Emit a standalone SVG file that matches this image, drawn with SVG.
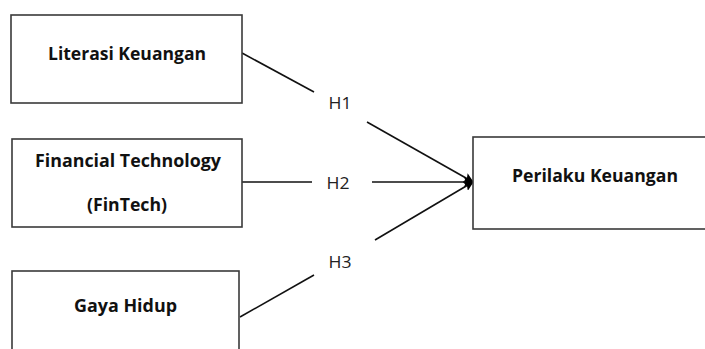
<svg xmlns="http://www.w3.org/2000/svg" width="705" height="349" viewBox="0 0 705 349">
<style>
.box{fill:#fff;stroke:#3a3a3a;stroke-width:1.6}
.lbl{font-family:"Open Sans","Liberation Sans",Arial,sans-serif;font-weight:bold;font-size:17px;fill:#111;text-anchor:middle}
.h{font-family:"Open Sans","Liberation Sans",Arial,sans-serif;font-size:16px;fill:#222;text-anchor:middle}
.ln{stroke:#111;stroke-width:1.6;fill:none}
</style>
<defs>
<marker id="arr" markerWidth="10" markerHeight="10" refX="9" refY="5" orient="auto" markerUnits="userSpaceOnUse">
<path d="M0,0 L10,5 L0,10 L2,5 Z" fill="#000"/>
</marker>
</defs>
<rect width="705" height="349" fill="#fff"/>
<g id="connectors">
<line class="ln" x1="242" y1="53" x2="314" y2="92"/>
<line class="ln" x1="367" y1="122" x2="473" y2="182" marker-end="url(#arr)"/>
<line class="ln" x1="242" y1="182" x2="312" y2="182"/>
<line class="ln" x1="372" y1="182" x2="473" y2="182" marker-end="url(#arr)"/>
<line class="ln" x1="240" y1="317" x2="314" y2="275"/>
<line class="ln" x1="375" y1="240" x2="473" y2="182" marker-end="url(#arr)"/>
<text class="h" x="340" y="109" textLength="23" lengthAdjust="spacingAndGlyphs">H1</text>
<text class="h" x="338" y="189" textLength="23" lengthAdjust="spacingAndGlyphs">H2</text>
<text class="h" x="340" y="268" textLength="23" lengthAdjust="spacingAndGlyphs">H3</text>
</g>
<g id="literasi">
<rect class="box" x="11" y="15" width="231" height="88"/>
<text class="lbl" x="127" y="60" textLength="158" lengthAdjust="spacingAndGlyphs">Literasi Keuangan</text>
</g>
<g id="fintech">
<rect class="box" x="12" y="139" width="230" height="88"/>
<text class="lbl" x="128" y="167" textLength="186" lengthAdjust="spacingAndGlyphs">Financial Technology</text>
<text class="lbl" x="127" y="211" textLength="80" lengthAdjust="spacingAndGlyphs">(FinTech)</text>
</g>
<g id="gaya">
<rect class="box" x="12" y="271" width="227" height="100"/>
<text class="lbl" x="125.5" y="312" textLength="103" lengthAdjust="spacingAndGlyphs">Gaya Hidup</text>
</g>
<g id="perilaku">
<rect class="box" x="473" y="137" width="240" height="92"/>
<text class="lbl" x="595" y="182" textLength="166" lengthAdjust="spacingAndGlyphs">Perilaku Keuangan</text>
</g>
</svg>
